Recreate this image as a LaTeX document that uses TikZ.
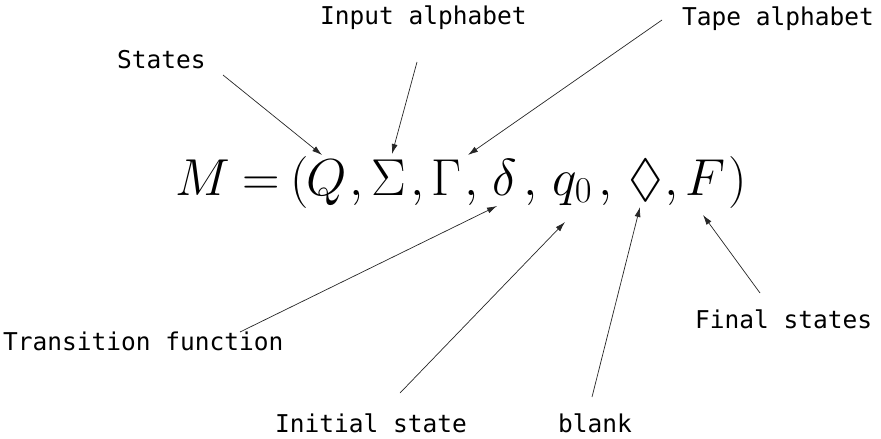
\RequirePackage{fix-cm}
\documentclass[tikz,border=0pt]{standalone}
\usepackage{amssymb}
\usepackage{fontspec}
\newfontfamily\labelfont{DejaVu Sans Mono}
\usepackage{tikz}
\usetikzlibrary{arrows.meta,calc}

\begin{document}
\begin{tikzpicture}[x=1pt,y=-1pt,
    sym/.style={font=\fontsize{52}{60}\selectfont, inner sep=0pt, anchor=base west},
    lab/.style={font=\labelfont\fontsize{24.5}{30}\selectfont, inner sep=0pt, anchor=base west},
    arr/.style={-{Latex[length=10pt,width=6pt]}, line width=0.7pt, black!85}]
    \useasboundingbox (0,0) rectangle (881,439);

    % The tuple, one node per symbol
    \foreach \nm/\x/\s in {M/175/M, lp/290/{(}, Q/306/Q, Sig/371/\Sigma, Gam/431/\Gamma,
        del/492/\delta, qz/552/q_0, dia/628/\lozenge, F/685/F, rp/728/{)}} {
        \node[sym] (\nm) at (\x, 195) {$\s$};
    }
    \node[sym, anchor=base] (eq) at (261, 195) {$=$};
    \foreach \x [count=\i] in {349, 410, 464, 523, 598, 664} {
        \node[sym] (c\i) at (\x, 195) {$,$};
    }

    % Labels
    \node[lab] (states) at (117, 68) {States};
    \node[lab] (inalph) at (320, 24) {Input alphabet};
    \node[lab] (tapalph) at (682, 25) {Tape alphabet};
    \node[lab] (trans) at (3, 350) {Transition function};
    \node[lab] (init) at (275, 432) {Initial state};
    \node[lab] (blk) at (558, 432) {blank};
    \node[lab] (fin) at (695, 328) {Final states};

    % Pointers
    \draw[arr] ([shift={(106,7)}]states.base west) -- ([shift={(16,-40)}]Q.base west);
    \draw[arr] ([shift={(97,38)}]inalph.base west) -- ([shift={(21,-41)}]Sig.base west);
    \draw[arr] ([shift={(-20,-5)}]tapalph.base west) -- ([shift={(37,-40)}]Gam.base west);
    \draw[arr] ([shift={(237,-18)}]trans.base west) -- ([shift={(5,11)}]del.base west);
    \draw[arr] ([shift={(125,-39)}]init.base west) -- ([shift={(13,27)}]qz.base west);
    \draw[arr] ([shift={(34,-35)}]blk.base west) -- ([shift={(12,12)}]dia.base west);
    \draw[arr] ([shift={(65,-35)}]fin.base west) -- ([shift={(18,20)}]F.base west);
\end{tikzpicture}
\end{document}
